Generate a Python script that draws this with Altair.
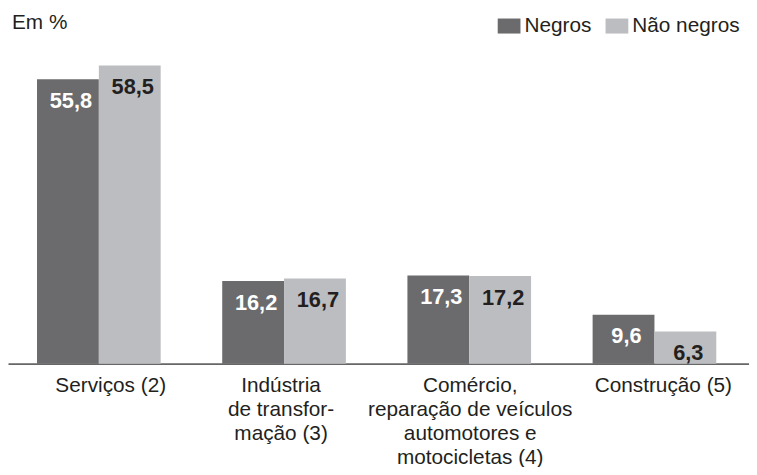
import altair as alt
import pandas as pd

# ---- data ----
unit_label = ["Em %"]
cat_keys = ["serv", "ind", "com", "cons"]
cat_labels = [
    "Serviços (2)",
    "Indústria\nde transfor-\nmação (3)",
    "Comércio,\nreparação de veículos\nautomotores e\nmotocicletas (4)",
    "Construção (5)",
]
label_shift = [12, -3, 1, 9]
series = ["Negros", "Não negros"]
negros = [55.8, 16.2, 17.3, 9.6]
nao_negros = [58.5, 16.7, 17.2, 6.3]

DARK = "#6b6b6e"
LIGHT = "#bcbdc1"
TXT = "#231f20"
FONT = "Liberation Sans"

rows = []
for k, a, b in zip(cat_keys, negros, nao_negros):
    rows.append({"cat": k, "serie": series[0], "value": a})
    rows.append({"cat": k, "serie": series[1], "value": b})
df = pd.DataFrame(rows)
df_lab = pd.DataFrame({"cat": cat_keys, "txt": cat_labels, "shift": label_shift})
df_unit = pd.DataFrame({"t": unit_label})

x_axis = alt.Axis(title=None, labels=False, ticks=False, domainColor="#666666",
                  domainWidth=2, grid=False)
x_enc = alt.X("cat:N", sort=cat_keys, axis=x_axis,
              scale=alt.Scale(paddingInner=0.3323, paddingOuter=0.1667, align=0.47))
xo_enc = alt.XOffset("serie:N", sort=series, scale=alt.Scale(paddingInner=0, paddingOuter=0))
y_enc = alt.Y("value:Q", scale=alt.Scale(domain=[0, 60]), axis=None)

base = alt.Chart(df).encode(x=x_enc, xOffset=xo_enc, y=y_enc)

bars = base.mark_bar(opacity=1).encode(
    color=alt.Color(
        "serie:N",
        sort=series,
        scale=alt.Scale(domain=series, range=[DARK, LIGHT]),
        legend=alt.Legend(
            title=None,
            orient="none",
            legendX=495,
            legendY=-44,
            direction="horizontal",
            symbolType="M-1,-0.66L1,-0.66L1,0.66L-1,0.66Z",
            symbolSize=529,
            symbolStrokeWidth=0,
            symbolOpacity=1,
            labelFontSize=21,
            labelFont=FONT,
            labelColor=TXT,
            labelOffset=4,
            columnPadding=14,
            padding=0,
        ),
    )
)

values = base.transform_calculate(
    label="replace(format(datum.value, '.1f'), '.', ',')"
).mark_text(
    dy=29, dx=3, baseline="alphabetic", align="center",
    fontWeight="bold", fontSize=22, font=FONT,
).encode(
    text="label:N",
    color=alt.condition(alt.datum.serie == "Negros", alt.value("white"), alt.value(TXT)),
)

label_layers = []
for k, s in zip(cat_keys, label_shift):
    label_layers.append(
        alt.Chart(df_lab)
        .transform_filter(alt.datum.cat == k)
        .mark_text(dx=s, baseline="alphabetic", align="center", lineBreak="\n",
                   lineHeight=24, fontSize=21, font=FONT, color=TXT)
        .encode(x=x_enc, y=alt.value(338), text="txt:N")
    )

unit = alt.Chart(df_unit).mark_text(
    align="left", baseline="alphabetic", fontSize=21, font=FONT, color=TXT
).encode(x=alt.value(4), y=alt.value(-29), text="t:N")

chart = alt.layer(bars, values, *label_layers, unit).properties(
    width=749,
    height=309,
    autosize="none",
    padding={"left": 0, "right": 0, "top": 48, "bottom": 102},
).configure(font=FONT).configure_view(stroke=None)

chart.save("out.html", embed_options={"renderer": "svg", "actions": False})
